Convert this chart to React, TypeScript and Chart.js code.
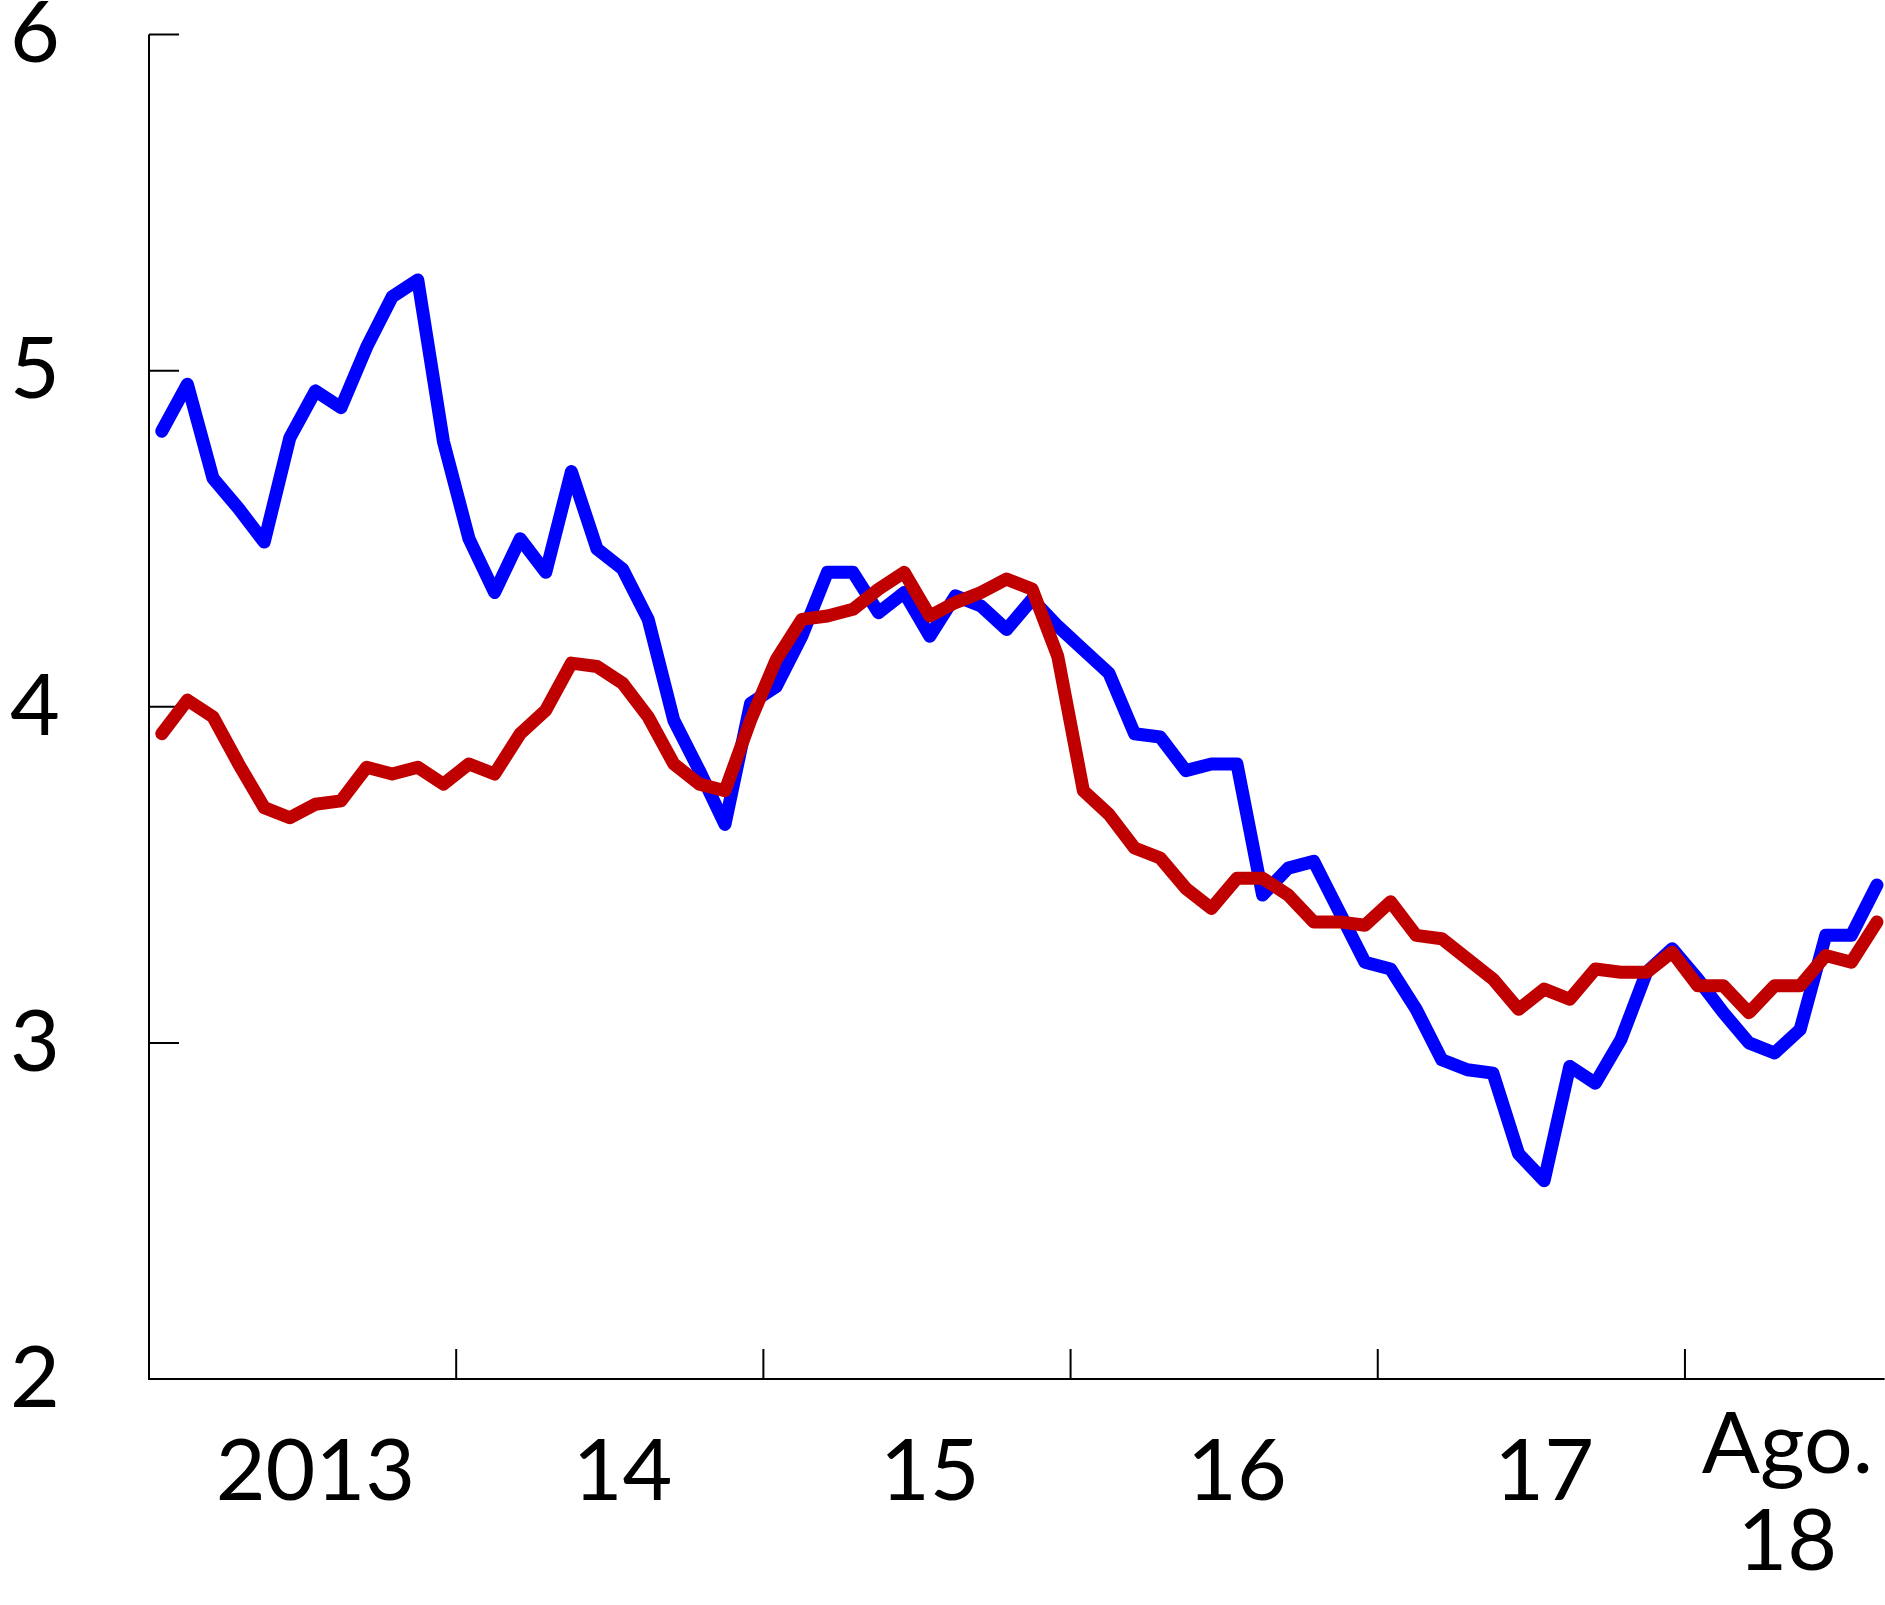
import React, { useEffect, useRef } from 'react';
import { Chart, registerables } from 'chart.js';

Chart.register(...registerables);

// Monthly observations, Jan 2013 – Aug 2018
const monthLabels: string[] = [
  '2013-01','2013-02','2013-03','2013-04','2013-05','2013-06','2013-07','2013-08','2013-09','2013-10','2013-11','2013-12',
  '2014-01','2014-02','2014-03','2014-04','2014-05','2014-06','2014-07','2014-08','2014-09','2014-10','2014-11','2014-12',
  '2015-01','2015-02','2015-03','2015-04','2015-05','2015-06','2015-07','2015-08','2015-09','2015-10','2015-11','2015-12',
  '2016-01','2016-02','2016-03','2016-04','2016-05','2016-06','2016-07','2016-08','2016-09','2016-10','2016-11','2016-12',
  '2017-01','2017-02','2017-03','2017-04','2017-05','2017-06','2017-07','2017-08','2017-09','2017-10','2017-11','2017-12',
  '2018-01','2018-02','2018-03','2018-04','2018-05','2018-06','2018-07','2018-08',
];

const blueSeries: number[] = [
  4.82, 4.96, 4.68, 4.59, 4.49, 4.80, 4.94, 4.89, 5.07, 5.22, 5.27, 4.79,
  4.50, 4.34, 4.50, 4.40, 4.70, 4.47, 4.41, 4.26, 3.96, 3.81, 3.65, 4.01,
  4.06, 4.21, 4.40, 4.40, 4.28, 4.34, 4.21, 4.33, 4.30, 4.23, 4.32, 4.24,
  4.17, 4.10, 3.92, 3.91, 3.81, 3.83, 3.83, 3.44, 3.52, 3.54, 3.39, 3.24,
  3.22, 3.10, 2.95, 2.92, 2.91, 2.67, 2.59, 2.93, 2.88, 3.01, 3.21, 3.28,
  3.19, 3.09, 3.00, 2.97, 3.04, 3.32, 3.32, 3.47,
];

const redSeries: number[] = [
  3.92, 4.02, 3.97, 3.83, 3.70, 3.67, 3.71, 3.72, 3.82, 3.80, 3.82, 3.77,
  3.83, 3.80, 3.92, 3.99, 4.13, 4.12, 4.07, 3.97, 3.83, 3.77, 3.75, 3.96,
  4.14, 4.26, 4.27, 4.29, 4.35, 4.40, 4.27, 4.31, 4.34, 4.38, 4.35, 4.15,
  3.75, 3.68, 3.58, 3.55, 3.46, 3.40, 3.49, 3.49, 3.44, 3.36, 3.36, 3.35,
  3.42, 3.32, 3.31, 3.25, 3.19, 3.10, 3.16, 3.13, 3.22, 3.21, 3.21, 3.27,
  3.17, 3.17, 3.09, 3.17, 3.17, 3.26, 3.24, 3.36,
];

const yTickValues: number[] = [2, 3, 4, 5, 6];
const xLabelPositions: number[] = [6, 18, 30, 42, 54, 63.5];
const xLabelTexts: (string | string[])[] = ['2013', '14', '15', '16', '17', ['Ago.', '18']];
const yearBoundaries: number[] = [11.5, 23.5, 35.5, 47.5, 59.5];

const FONT_FAMILY = 'Lato, "Open Sans", "Noto Sans", sans-serif';
const FONT_SIZE = 86;

const axesPlugin = {
  id: 'axesMarks',
  beforeDatasetsDraw(chart: any) {
    const { ctx, chartArea, scales } = chart;
    const x = scales.x;
    const y = scales.y;
    ctx.save();
    ctx.strokeStyle = '#000000';
    ctx.lineWidth = 2;
    ctx.lineCap = 'butt';
    ctx.beginPath();
    ctx.moveTo(chartArea.left, chartArea.top);
    ctx.lineTo(chartArea.left, chartArea.bottom);
    ctx.lineTo(chartArea.right, chartArea.bottom);
    yTickValues.forEach((v) => {
      const py = y.getPixelForValue(v);
      ctx.moveTo(chartArea.left, py);
      ctx.lineTo(chartArea.left + 30, py);
    });
    yearBoundaries.forEach((v) => {
      const px = x.getPixelForValue(v);
      ctx.moveTo(px, chartArea.bottom);
      ctx.lineTo(px, chartArea.bottom - 30);
    });
    ctx.stroke();
    ctx.restore();
  },
};

export default function App() {
  const canvasRef = useRef<HTMLCanvasElement | null>(null);

  useEffect(() => {
    if (!canvasRef.current) return;
    const chart = new Chart(canvasRef.current, {
      type: 'line',
      data: {
        datasets: [
          {
            label: 'Serie roja',
            data: redSeries.map((v, i) => ({ x: i, y: v })),
            borderColor: '#C00000',
            backgroundColor: '#C00000',
            borderWidth: 13,
            pointRadius: 0,
            tension: 0,
            borderJoinStyle: 'round',
            borderCapStyle: 'round',
            fill: false,
          },
          {
            label: 'Serie azul',
            data: blueSeries.map((v, i) => ({ x: i, y: v })),
            borderColor: '#0000FF',
            backgroundColor: '#0000FF',
            borderWidth: 13,
            pointRadius: 0,
            tension: 0,
            borderJoinStyle: 'round',
            borderCapStyle: 'round',
            fill: false,
          },
        ],
      },
      options: {
        animation: false,
        responsive: false,
        devicePixelRatio: 1,
        layout: { padding: { top: 0, left: 0, right: 0, bottom: 0 } },
        plugins: {
          legend: { display: false },
          tooltip: { enabled: false },
          title: { display: false },
        },
        scales: {
          x: {
            type: 'linear',
            min: -0.5,
            max: 67.3,
            grid: { display: false, drawTicks: false },
            border: { display: false },
            afterBuildTicks: (scale: any) => {
              scale.ticks = xLabelPositions.map((v) => ({ value: v }));
            },
            afterFit: (scale: any) => {
              scale.height = 226;
            },
            ticks: {
              autoSkip: false,
              maxRotation: 0,
              minRotation: 0,
              padding: 18,
              color: '#000000',
              crossAlign: 'near',
              font: (ctx: any) => ({
                family: FONT_FAMILY,
                size: FONT_SIZE,
                lineHeight: ctx.index === xLabelPositions.length - 1 ? '97px' : '151px',
              }),
              callback: (value: any) => {
                const idx = xLabelPositions.indexOf(Number(value));
                return idx >= 0 ? xLabelTexts[idx] : '';
              },
            },
          },
          y: {
            type: 'linear',
            min: 2,
            max: 6,
            grid: { display: false, drawTicks: false },
            border: { display: false },
            afterBuildTicks: (scale: any) => {
              scale.ticks = yTickValues.map((v) => ({ value: v }));
            },
            afterFit: (scale: any) => {
              scale.width = 149;
            },
            ticks: {
              padding: 89,
              color: '#000000',
              font: { family: FONT_FAMILY, size: FONT_SIZE },
              callback: (value: any) => String(value),
            },
          },
        },
      },
      plugins: [axesPlugin],
    } as any);
    return () => chart.destroy();
  }, []);

  return (
    <div style={{ position: 'absolute', left: 0, top: 0, width: 1885, height: 1605, overflow: 'hidden', background: '#ffffff' }}>
      <canvas
        ref={canvasRef}
        width={1891}
        height={1711}
        style={{ position: 'absolute', left: 0, top: -106, width: 1891, height: 1711 }}
      />
    </div>
  );
}
